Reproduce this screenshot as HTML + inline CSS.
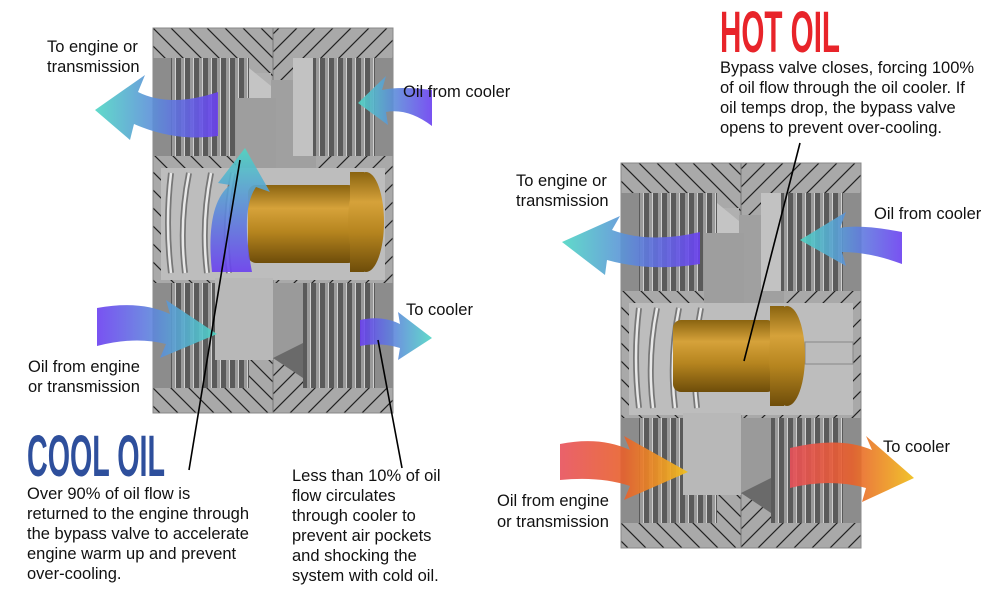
<!DOCTYPE html>
<html><head><meta charset="utf-8"><style>
html,body{margin:0;padding:0;background:#fff;}
svg{display:block}
text{font-family:"Liberation Sans",Arial,sans-serif;fill:#111;font-size:16.5px}
</style></head><body>
<svg width="1000" height="600" viewBox="0 0 1000 600" xmlns="http://www.w3.org/2000/svg" font-family="Liberation Sans, Arial, sans-serif">
<defs>
<pattern id="hatch" width="18" height="18" patternUnits="userSpaceOnUse">
<rect width="18" height="18" fill="#a9a9a9"/><path d="M0,0 L18,18 M-4,14 L4,22 M14,-4 L22,4" stroke="#222" stroke-width="1.2"/>
</pattern>
<pattern id="hatch2" width="18" height="18" patternUnits="userSpaceOnUse">
<rect width="18" height="18" fill="#a9a9a9"/><path d="M0,18 L18,0 M-4,4 L4,-4 M14,22 L22,14" stroke="#222" stroke-width="1.2"/>
</pattern>
<pattern id="thr" width="9" height="10" patternUnits="userSpaceOnUse">
<rect width="9" height="10" fill="#5a5a5a"/><rect x="1" width="3" height="10" fill="#9a9a9a"/><rect x="4" width="1" height="10" fill="#d0d0d0"/>
</pattern>
<linearGradient id="bronze" x1="0" y1="0" x2="0" y2="1">
<stop offset="0" stop-color="#8a6410"/><stop offset="0.3" stop-color="#d6a23a"/><stop offset="0.6" stop-color="#b6851f"/><stop offset="1" stop-color="#6e4d0a"/>
</linearGradient>
<linearGradient id="coolL" x1="0" y1="0" x2="1" y2="0">
<stop offset="0" stop-color="#4fd6c4" stop-opacity=".9"/><stop offset="1" stop-color="#6a3ff0" stop-opacity=".9"/>
</linearGradient>
<linearGradient id="coolRt" x1="1" y1="0" x2="0" y2="0">
<stop offset="0" stop-color="#4fd6c4" stop-opacity=".9"/><stop offset="1" stop-color="#6a3ff0" stop-opacity=".9"/>
</linearGradient>
<linearGradient id="coolU" x1="0" y1="1" x2="0" y2="0">
<stop offset="0" stop-color="#6a3ff0" stop-opacity=".9"/><stop offset="1" stop-color="#4fd6c4" stop-opacity=".9"/>
</linearGradient>
<linearGradient id="hot" x1="0" y1="0" x2="1" y2="0">
<stop offset="0" stop-color="#e8505a" stop-opacity=".9"/><stop offset="0.5" stop-color="#e8602a" stop-opacity=".9"/><stop offset="1" stop-color="#f0c020" stop-opacity=".95"/>
</linearGradient>
<g id="valve">
<rect x="0" y="0" width="120" height="385" fill="url(#hatch)"/>
<rect x="120" y="0" width="120" height="385" fill="url(#hatch2)"/>
<line x1="120" y1="0" x2="120" y2="385" stroke="#777"/>
<rect x="0" y="0" width="240" height="385" fill="none" stroke="#888"/>
<rect x="0" y="30" width="18" height="98" fill="#8c8c8c"/>
<rect x="18" y="30" width="78" height="98" fill="url(#thr)"/>
<rect x="96" y="45" width="22" height="83" fill="#b0b0b0"/>
<rect x="118" y="52" width="45" height="90" fill="#a0a0a0"/>
<polygon points="96,40 118,58 118,90 96,100" fill="#c4c4c4"/>
<rect x="140" y="30" width="20" height="98" fill="#c2c2c2"/>
<rect x="160" y="30" width="62" height="98" fill="url(#thr)"/>
<rect x="222" y="30" width="18" height="98" fill="#8c8c8c"/>
<rect x="83" y="70" width="40" height="72" fill="#9e9e9e"/>
<rect x="8" y="140" width="224" height="112" fill="#bdbdbd"/>
<g fill="none" stroke="#777" stroke-width="6">
<path d="M18 145 Q12 195 18 245"/><path d="M36 145 Q26 195 32 245"/><path d="M58 145 Q48 195 54 245"/><path d="M80 145 Q70 195 76 245"/>
</g>
<g fill="none" stroke="#e8e8e8" stroke-width="2.5">
<path d="M18 145 Q12 195 18 245"/><path d="M36 145 Q26 195 32 245"/><path d="M58 145 Q48 195 54 245"/><path d="M80 145 Q70 195 76 245"/>
</g>
<rect x="0" y="255" width="18" height="105" fill="#8c8c8c"/>
<rect x="18" y="255" width="78" height="105" fill="url(#thr)"/>
<rect x="62" y="250" width="58" height="82" fill="#b8b8b8"/>
<rect x="120" y="255" width="30" height="75" fill="#9a9a9a"/>
<polygon points="120,330 150,315 150,350" fill="#6a6a6a"/>
<rect x="150" y="255" width="72" height="105" fill="url(#thr)"/>
<rect x="222" y="255" width="18" height="105" fill="#8c8c8c"/>
</g>
</defs>
<rect width="1000" height="600" fill="#fff"/>

<use href="#valve" x="153" y="28"/>
<rect x="248" y="185" width="108" height="78" rx="8" fill="url(#bronze)"/>
<ellipse cx="366" cy="222" rx="18" ry="50" fill="url(#bronze)"/>
<rect x="350" y="172" width="14" height="100" fill="url(#bronze)"/>

<use href="#valve" x="621" y="163"/>
<rect x="805" y="342" width="48" height="22" fill="#bcbcbc" stroke="#888"/>
<rect x="673" y="320" width="102" height="72" rx="8" fill="url(#bronze)"/>
<ellipse cx="787" cy="356" rx="18" ry="50" fill="url(#bronze)"/>
<rect x="770" y="306" width="14" height="100" fill="url(#bronze)"/>

<path d="M218 92 Q170 108 138 92 L145 75 L95 110 L130 140 L134 124 Q175 142 218 136 Z" fill="url(#coolL)"/>
<path d="M432 90 Q400 86 382 90 L386 76 L358 103 L388 125 L386 112 Q408 108 432 126 Z" fill="url(#coolL)"/>
<path d="M212 272 Q205 205 230 185 L218 183 L245 148 L270 192 L256 187 Q240 210 252 272 Z" fill="url(#coolU)"/>
<path d="M97 308 Q140 300 170 314 L166 300 L217 334 L160 358 L166 344 Q135 336 97 346 Z" fill="url(#coolRt)"/>
<path d="M360 320 Q382 315 400 324 L398 312 L432 338 L398 360 L400 348 Q380 342 360 346 Z" fill="url(#coolRt)"/>

<path d="M700 232 Q650 244 612 230 L620 216 L562 242 L605 275 L607 260 Q650 272 700 264 Z" fill="url(#coolL)"/>
<path d="M902 232 Q860 224 840 228 L846 212 L800 240 L846 266 L842 252 Q870 252 902 264 Z" fill="url(#coolL)"/>
<path d="M560 444 Q600 436 630 450 L624 436 L688 472 L624 500 L630 486 Q600 476 560 480 Z" fill="url(#hot)"/>
<path d="M790 448 Q840 436 872 450 L866 436 L914 478 L862 502 L866 488 Q830 478 790 488 Z" fill="url(#hot)"/>

<line x1="240" y1="160" x2="189" y2="470" stroke="#000" stroke-width="1.6"/>
<line x1="378" y1="340" x2="402" y2="468" stroke="#000" stroke-width="1.6"/>
<line x1="744" y1="361" x2="800" y2="143" stroke="#000" stroke-width="1.6"/>

<text x="47" y="52">To engine or</text>
<text x="47" y="72">transmission</text>
<text x="403" y="97">Oil from cooler</text>
<text x="406" y="315">To cooler</text>
<text x="28" y="372">Oil from engine</text>
<text x="28" y="392">or transmission</text>
<text x="27" y="476" style="font-size:58px;font-weight:bold;fill:#2e4f9c" textLength="138" lengthAdjust="spacingAndGlyphs">COOL OIL</text>
<text x="27" y="499">Over 90% of oil flow is</text>
<text x="27" y="519">returned to the engine through</text>
<text x="27" y="539">the bypass valve to accelerate</text>
<text x="27" y="559">engine warm up and prevent</text>
<text x="27" y="579">over-cooling.</text>
<text x="292" y="481">Less than 10% of oil</text>
<text x="292" y="501">flow circulates</text>
<text x="292" y="521">through cooler to</text>
<text x="292" y="541">prevent air pockets</text>
<text x="292" y="561">and shocking the</text>
<text x="292" y="581">system with cold oil.</text>

<text x="720" y="52" style="font-size:58px;font-weight:bold;fill:#e8242a" textLength="120" lengthAdjust="spacingAndGlyphs">HOT OIL</text>
<text x="720" y="73">Bypass valve closes, forcing 100%</text>
<text x="720" y="93">of oil flow through the oil cooler. If</text>
<text x="720" y="113">oil temps drop, the bypass valve</text>
<text x="720" y="133">opens to prevent over-cooling.</text>
<text x="516" y="186">To engine or</text>
<text x="516" y="206">transmission</text>
<text x="874" y="219">Oil from cooler</text>
<text x="883" y="452">To cooler</text>
<text x="497" y="506">Oil from engine</text>
<text x="497" y="527">or transmission</text>
</svg>
</body></html>
